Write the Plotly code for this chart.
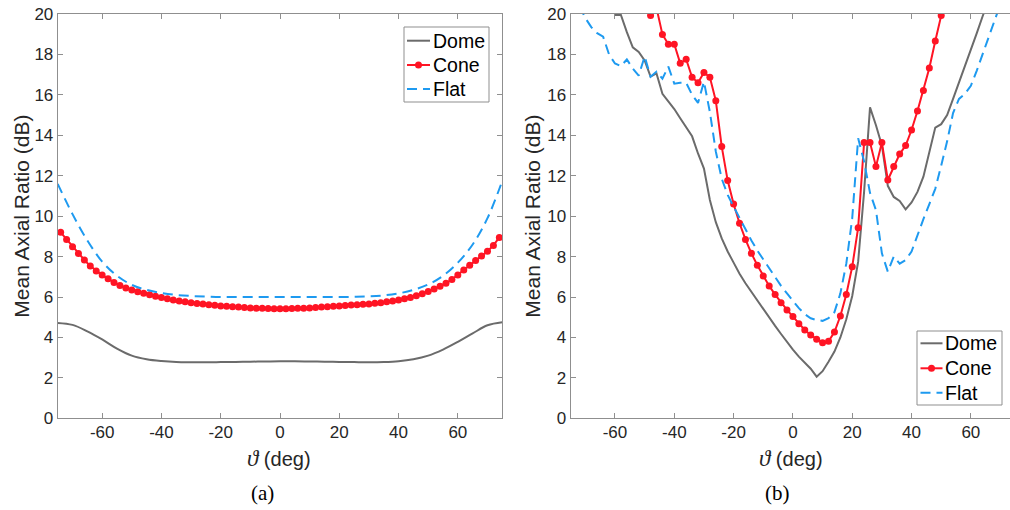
import plotly.graph_objects as go

# ---------------- data: panel (a) ----------------
theta_a_cone = list(range(-74, 75, 2))
cone_a = [9.20, 8.85, 8.49, 8.15, 7.83, 7.53, 7.29, 7.09, 6.90, 6.72, 6.57, 6.45, 6.35,
          6.26, 6.18, 6.11, 6.04, 5.97, 5.91, 5.85, 5.80, 5.76, 5.72, 5.68, 5.65, 5.62,
          5.59, 5.56, 5.54, 5.52, 5.50, 5.48, 5.46, 5.45, 5.44, 5.43, 5.42, 5.42, 5.42,
          5.43, 5.44, 5.45, 5.46, 5.48, 5.50, 5.52, 5.54, 5.56, 5.58, 5.60, 5.62, 5.64,
          5.66, 5.69, 5.72, 5.76, 5.80, 5.85, 5.91, 5.98, 6.06, 6.16, 6.27, 6.40, 6.53,
          6.68, 6.87, 7.09, 7.33, 7.57, 7.80, 8.03, 8.26, 8.55, 8.95]

theta_a = list(range(-75, 76, 5))
dome_a = [4.72, 4.62, 4.30, 3.90, 3.45, 3.10, 2.92, 2.83, 2.78, 2.77, 2.77, 2.78, 2.79,
          2.80, 2.81, 2.82, 2.82, 2.81, 2.80, 2.79, 2.78, 2.77, 2.78, 2.82, 2.92, 3.10,
          3.40, 3.78, 4.20, 4.60, 4.75]
flat_a = [11.60, 10.10, 8.80, 7.75, 7.05, 6.60, 6.35, 6.20, 6.10, 6.05, 6.02, 6.00, 6.00,
          6.00, 6.00, 6.00, 6.00, 6.00, 6.00, 6.00, 6.01, 6.03, 6.08, 6.18, 6.35, 6.62,
          7.05, 7.70, 8.60, 9.90, 11.75]

# ---------------- data: panel (b) ----------------
theta_b_cone = list(range(-48, 51, 2))
cone_b = [19.92, 20.30, 18.99, 18.50, 18.50, 17.56, 17.76, 16.87, 16.60, 17.11, 16.87,
          15.71, 13.44, 11.76, 10.60, 9.65, 8.85, 8.16, 7.57, 7.04, 6.55, 6.12, 5.72,
          5.36, 5.03, 4.68, 4.37, 4.12, 3.91, 3.74, 3.81, 4.27, 5.06, 6.12, 7.50, 9.43,
          13.64, 13.64, 12.45, 13.64, 11.79, 12.45, 13.07, 13.49, 14.26, 15.20, 16.21,
          17.33, 18.66, 19.92]

theta_b_dome = list(range(-60, 67, 2))
dome_b = [19.95, 19.95, 19.10, 18.35, 18.12, 17.70, 16.90, 17.06, 16.05, 15.70, 15.30,
          14.84, 14.40, 13.95, 13.10, 12.35, 10.80, 9.70, 8.90, 8.25, 7.70, 7.15, 6.68,
          6.25, 5.82, 5.40, 4.98, 4.57, 4.17, 3.77, 3.40, 3.05, 2.75, 2.45, 2.06, 2.33,
          2.80, 3.30, 4.00, 4.90, 6.05, 7.75, 11.20, 15.38, 14.50, 13.50, 11.50, 10.95,
          10.75, 10.34, 10.68, 11.20, 11.95, 13.20, 14.38, 14.55, 15.00, 15.80, 16.60,
          17.35, 18.20, 19.05, 19.90, 20.70]

theta_b_flat = list(range(-72, 71, 2))
flat_b = [20.40, 19.80, 19.35, 19.05, 18.88, 18.00, 17.55, 17.42, 17.75, 17.30, 16.95,
          17.90, 16.90, 17.15, 16.80, 17.40, 16.55, 16.60, 16.60, 16.00, 15.60, 16.65,
          15.15, 13.20, 11.85, 11.05, 10.47, 9.90, 9.35, 8.80, 8.30, 7.85, 7.40, 6.95,
          6.55, 6.18, 5.80, 5.45, 5.15, 4.95, 4.86, 4.82, 4.95, 5.25, 6.18, 7.65, 9.90,
          13.85, 12.70, 11.15, 10.30, 8.16, 7.25, 8.00, 7.65, 7.83, 8.25, 9.10, 9.85,
          10.60, 11.35, 12.50, 13.70, 15.10, 15.80, 16.05, 16.45, 17.20, 18.05, 18.90,
          19.70, 20.50]

x_ticks = [-60, -40, -20, 0, 20, 40, 60]
x_tick_text = ["-60", "-40", "-20", "0", "20", "40", "60"]
y_ticks = list(range(0, 21, 2))
y_tick_text = [str(v) for v in y_ticks]

series_names = ["Dome", "Cone", "Flat"]

GRAY = "#6b6b6b"
RED = "#ff1424"
BLUE = "#1e9af0"
AX = "#8f8f8f"
TXT = "#262626"
FONT = "Liberation Sans, Arial, sans-serif"
DASH = "10px,6px"

fig = go.Figure()

# panel (a)
fig.add_trace(go.Scatter(x=theta_a, y=dome_a, mode="lines", name=series_names[0],
                         line=dict(color=GRAY, width=2, shape="spline"),
                         xaxis="x", yaxis="y"))
fig.add_trace(go.Scatter(x=theta_a_cone, y=cone_a, mode="lines+markers", name=series_names[1],
                         line=dict(color=RED, width=2),
                         marker=dict(color=RED, size=7, symbol="circle"),
                         xaxis="x", yaxis="y"))
fig.add_trace(go.Scatter(x=theta_a, y=flat_a, mode="lines", name=series_names[2],
                         line=dict(color=BLUE, width=2, dash=DASH, shape="spline"),
                         xaxis="x", yaxis="y"))
# panel (b)
fig.add_trace(go.Scatter(x=theta_b_dome, y=dome_b, mode="lines", name=series_names[0],
                         line=dict(color=GRAY, width=2),
                         xaxis="x2", yaxis="y2"))
fig.add_trace(go.Scatter(x=theta_b_cone, y=cone_b, mode="lines+markers", name=series_names[1],
                         line=dict(color=RED, width=2),
                         marker=dict(color=RED, size=7, symbol="circle"),
                         xaxis="x2", yaxis="y2"))
fig.add_trace(go.Scatter(x=theta_b_flat, y=flat_b, mode="lines", name=series_names[2],
                         line=dict(color=BLUE, width=2, dash=DASH),
                         xaxis="x2", yaxis="y2"))

W, H = 1010, 510
ytop, ybot = 1 - 14 / H, 1 - 418.3 / H

axis_common = dict(showgrid=False, zeroline=False, showline=True, linecolor=AX, linewidth=1,
                   ticks="inside", ticklen=5, tickwidth=1, tickcolor=AX,
                   tickfont=dict(family=FONT, size=17, color=TXT), automargin=False)

fig.update_layout(
    width=W, height=H, margin=dict(l=0, r=0, t=0, b=0),
    paper_bgcolor="white", plot_bgcolor="white", showlegend=False,
    xaxis=dict(domain=[57.7 / W, 502.3 / W], range=[-75, 75], tickvals=x_ticks,
               ticktext=x_tick_text, mirror="allticks", anchor="y",
               ticklabelstandoff=-2, **axis_common),
    yaxis=dict(domain=[ybot, ytop], range=[0, 20], tickvals=y_ticks, ticktext=y_tick_text,
               mirror="allticks", anchor="x", ticklabelstandoff=0, **axis_common),
    xaxis2=dict(domain=[570.5 / W, 1.0], range=[-75, 73.2], tickvals=x_ticks,
                ticktext=x_tick_text, mirror="allticks", anchor="y2",
                ticklabelstandoff=-2, **axis_common),
    yaxis2=dict(domain=[ybot, ytop], range=[0, 20], tickvals=y_ticks, ticktext=y_tick_text,
                mirror=False, anchor="x2", ticklabelstandoff=0, **axis_common),
)

def px(x):
    return x / W

def py(y):
    return 1 - y / H

shapes = []
ann = []

# legends (MATLAB-style boxes)
def legend_box(x0, y0, x1, y1, row_y, line_x0, line_x1, text_x):
    shapes.append(dict(type="rect", xref="paper", yref="paper",
                       x0=px(x0), x1=px(x1), y0=py(y0), y1=py(y1),
                       line=dict(color=AX, width=1), fillcolor="white", layer="above"))
    styles = [(GRAY, "solid", False), (RED, "solid", True), (BLUE, DASH, False)]
    for name, ry, (col, dash, mk) in zip(series_names, row_y, styles):
        shapes.append(dict(type="line", xref="paper", yref="paper",
                           x0=px(line_x0), x1=px(line_x1), y0=py(ry), y1=py(ry),
                           line=dict(color=col, width=2, dash=dash), layer="above"))
        if mk:
            cx = (line_x0 + line_x1) / 2
            shapes.append(dict(type="circle", xref="paper", yref="paper",
                               x0=px(cx - 3.5), x1=px(cx + 3.5),
                               y0=py(ry + 3.5), y1=py(ry - 3.5),
                               line=dict(color=col, width=0), fillcolor=col, layer="above"))
        ann.append(dict(x=px(text_x), y=py(ry), xref="paper", yref="paper", text=name,
                        showarrow=False, xanchor="left", yanchor="middle",
                        font=dict(family=FONT, size=19.5, color="black")))

legend_box(404, 27, 489, 102, (40.7, 65.0, 89.0), 407, 430, 431)
legend_box(917, 331, 1002, 405, (343.3, 368.3, 392.7), 920.5, 942.5, 943)

ytitle = "Mean Axial Ratio (dB)"
xtitle = ('<span style="font-family:\'Liberation Serif\',serif;font-size:23px">'
          '<i>ϑ</i></span> (deg)')
for xc in (22, 533):
    ann.append(dict(x=px(xc), y=py(216.7), xref="paper", yref="paper",
                    text=ytitle, textangle=-90, showarrow=False,
                    font=dict(family=FONT, size=21, color=TXT),
                    xanchor="center", yanchor="middle"))
for xc in (279, 791):
    ann.append(dict(x=px(xc), y=py(458), xref="paper", yref="paper",
                    text=xtitle, showarrow=False,
                    font=dict(family=FONT, size=20, color=TXT),
                    xanchor="center", yanchor="middle"))
for xc, lab in ((262, "(a)"), (777, "(b)")):
    ann.append(dict(x=px(xc), y=py(493), xref="paper", yref="paper",
                    text=lab, showarrow=False,
                    font=dict(family="Liberation Serif, serif", size=21, color="black"),
                    xanchor="center", yanchor="middle"))

fig.update_layout(shapes=shapes, annotations=ann)

fig.write_html("out.html")
